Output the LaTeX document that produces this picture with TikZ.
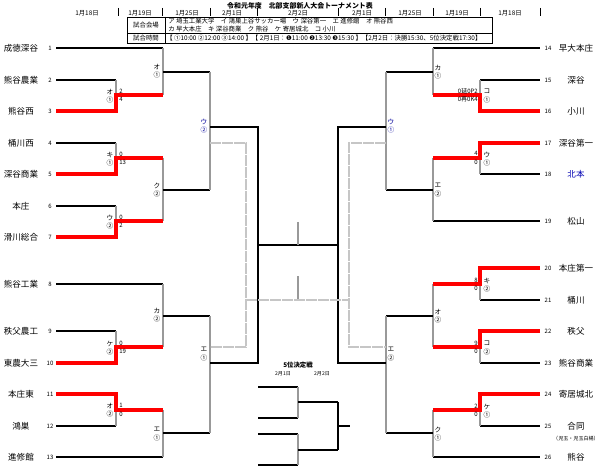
\documentclass[tikz,border=0pt]{standalone}
\usepackage{fontspec}
\setmainfont{Noto Sans CJK JP}
\newfontfamily\dvs{DejaVu Sans}
\begin{document}
\begin{tikzpicture}[x=0.75pt,y=-0.75pt,
 hl/.style={black,line width=0.8pt},
 vl/.style={gray!80,line width=1.5pt},
 rd/.style={red,line width=2.4pt},
 dl/.style={gray!45,line width=1.2pt,dash pattern=on 8pt off 1pt},
 nm/.style={font=\fontsize{6.4}{7}\selectfont,inner sep=0},
 no/.style={font=\fontsize{4.5}{5}\selectfont,inner sep=0},
 sc/.style={font=\fontsize{4.5}{6.2}\selectfont,inner sep=0,align=left},
 vn/.style={font=\fontsize{5}{6.4}\selectfont,inner sep=0,align=center},
 hd/.style={font=\fontsize{4.8}{5.5}\selectfont,inner sep=0}]
\useasboundingbox (0,0) rectangle (600,474);
% header
\node[hd,font=\fontsize{5.2}{6}\selectfont\bfseries] (title) at (300,6) {令和元年度　北部支部新人大会トーナメント表};
\foreach \x/\t [count=\i] in {87/1月18日,140/1月19日,187/1月25日,232/2月1日,298/2月2日,362/2月1日,410/1月25日,457/1月19日,510/1月18日}
 \node[hd] (d\i) at (\x,13) {\t};
\foreach \x in {118,162,210,257,338,385,433,480,540} \draw[line width=0.6pt] (\x,8) -- (\x,16);
\draw[line width=0.6pt] (127,17) rectangle (492,43);
\draw[line width=0.5pt] (127,33) -- (492,33) (165,17) -- (165,43);
\node[hd] (v0) at (146,25) {試合会場};
\node[hd] (t0) at (146,38) {試合時間};
\node[hd,anchor=west] (v1) at (168,21) {ア 埼玉工業大学　イ 鴻巣上谷サッカー場　ウ 深谷第一　エ 進修館　オ 熊谷西};
\node[hd,anchor=west] (v2) at (168,29) {カ 早大本庄　キ 深谷商業　ク 熊谷　ケ 寄居城北　コ 小川};
\node[hd,anchor=west] (t1) at (166,38) {【 ①10:00 ②12:00 ③14:00 】【 2月1日：{\dvs❶}11:00 {\dvs❷}13:30 {\dvs❸}15:30 】【2月2日：決勝15:30、5位決定戦17:30】};
% left teams
\foreach \y/\n/\t in {48/1/成徳深谷,80/2/熊谷農業,111/3/熊谷西,143/4/桶川西,174/5/深谷商業,206/6/本庄,237/7/滑川総合,284/8/熊谷工業,331/9/秩父農工,363/10/東農大三,394/11/本庄東,426/12/鴻巣,457/13/進修館}{
 \node[nm] (L\n) at (21,\y) {\t};
 \node[no] (Ln\n) at (50,\y) {\n};}
% right teams
\foreach \y/\n/\t in {48/14/早大本庄,80/15/深谷,111/16/小川,143/17/深谷第一,221/19/松山,268/20/本庄第一,300/21/桶川,331/22/秩父,363/23/熊谷商業,394/24/寄居城北,457/26/熊谷}{
 \node[nm] (R\n) at (576,\y) {\t};
 \node[no] (Rn\n) at (548,\y) {\n};}
\node[nm,text=blue!70!black] (R18) at (576,174) {北本};
\node[nm] (R25) at (576,426) {合同};
\node[no,font=\fontsize{3.8}{4}\selectfont] (R25s) at (576,439) {（児玉・児玉白楊）};
\node[no] (Rn18) at (548,174) {18};
\node[no] (Rn25) at (548,426) {25};
% ---------- left bracket ----------
\draw[hl] (56,48) -- (163,48);
\draw[hl] (56,80) -- (116,80); \draw[vl] (116,80) -- (116,111);
\draw[hl] (56,143) -- (116,143); \draw[vl] (116,143) -- (116,174);
\draw[hl] (56,206) -- (116,206); \draw[vl] (116,206) -- (116,237);
\draw[vl] (163,48) -- (163,95); \draw[vl] (163,158) -- (163,221);
\draw[hl] (163,72) -- (210,72); \draw[hl] (163,190) -- (210,190);
\draw[vl] (210,72) -- (210,190);
\draw[rd] (56,111) -- (116,111) -- (116,95) -- (163,95);
\draw[rd] (56,174) -- (116,174) -- (116,158) -- (163,158);
\draw[rd] (56,237) -- (116,237) -- (116,221) -- (163,221);
\draw[hl] (56,284) -- (163,284);
\draw[hl] (56,331) -- (116,331); \draw[vl] (116,331) -- (116,363);
\draw[hl] (56,426) -- (116,426); \draw[vl] (116,394) -- (116,426);
\draw[hl] (56,457) -- (163,457);
\draw[vl] (163,284) -- (163,347); \draw[vl] (163,410) -- (163,457);
\draw[hl] (163,316) -- (210,316); \draw[hl] (163,433) -- (210,433);
\draw[vl] (210,316) -- (210,433);
\draw[rd] (56,363) -- (116,363) -- (116,347) -- (163,347);
\draw[rd] (56,394) -- (116,394) -- (116,410) -- (163,410);
% ---------- right bracket ----------
\draw[hl] (433,48) -- (540,48);
\draw[hl] (480,80) -- (540,80); \draw[vl] (480,80) -- (480,111);
\draw[hl] (480,174) -- (540,174); \draw[vl] (480,143) -- (480,174);
\draw[hl] (433,221) -- (540,221);
\draw[vl] (433,48) -- (433,95); \draw[vl] (433,158) -- (433,221);
\draw[hl] (386,72) -- (433,72); \draw[hl] (386,190) -- (433,190);
\draw[vl] (386,72) -- (386,190);
\draw[rd] (540,111) -- (480,111) -- (480,95) -- (433,95);
\draw[rd] (540,143) -- (480,143) -- (480,158) -- (433,158);
\draw[hl] (480,300) -- (540,300); \draw[vl] (480,268) -- (480,300);
\draw[hl] (480,363) -- (540,363); \draw[vl] (480,331) -- (480,363);
\draw[hl] (480,426) -- (540,426); \draw[vl] (480,394) -- (480,426);
\draw[hl] (433,457) -- (540,457);
\draw[vl] (433,284) -- (433,347); \draw[vl] (433,410) -- (433,457);
\draw[hl] (386,316) -- (433,316); \draw[hl] (386,433) -- (433,433);
\draw[vl] (386,316) -- (386,433);
\draw[rd] (540,268) -- (480,268) -- (480,284) -- (433,284);
\draw[rd] (540,331) -- (480,331) -- (480,347) -- (433,347);
\draw[rd] (540,394) -- (480,394) -- (480,410) -- (433,410);
% ---------- centre ----------
\draw[hl] (210,127) -- (258,127) -- (258,363) -- (210,363);
\draw[hl] (386,127) -- (338,127) -- (338,363) -- (386,363);
\draw[hl] (258,245) -- (338,245);
\draw[vl,line width=1.2pt] (298,222) -- (298,245) (298,276) -- (298,300);
\draw[dl] (210,143) -- (246,143) -- (246,347) -- (210,347);
\draw[dl] (386,143) -- (349,143) -- (349,347) -- (386,347);
\draw[dl] (246,300) -- (349,300);
% 5th place
\node[hd,font=\fontsize{4.8}{5.5}\selectfont\bfseries] (fifth) at (298,365) {5位決定戦};
\node[hd,font=\fontsize{3.8}{4}\selectfont] (f1) at (283,374) {2月1日};
\node[hd,font=\fontsize{3.8}{4}\selectfont] (f2) at (322,374) {2月2日};
\draw[hl] (258,387) -- (298,387) (258,418) -- (298,418) (258,434) -- (298,434) (258,465) -- (298,465);
\draw[vl,line width=1.2pt] (298,387) -- (298,418) (298,434) -- (298,465);
\draw[hl] (298,402) -- (338,402) (298,450) -- (338,450) (338,426) -- (350,426);
\draw[line width=1pt] (338,402) -- (338,450);
% ---------- labels left ----------
\node[vn] (a1) at (110,96) {オ\\①};
\node[vn] (a2) at (110,159) {キ\\①};
\node[vn] (a3) at (110,222) {ウ\\②};
\node[vn] (a4) at (110,348) {ケ\\②};
\node[vn] (a5) at (110,410) {オ\\②};
\node[vn] (b1) at (157,71) {オ\\①};
\node[vn] (b2) at (157,190) {ク\\②};
\node[vn] (b3) at (157,315) {カ\\②};
\node[vn] (b4) at (157,434) {エ\\①};
\node[vn,text=blue!60!black] (c1) at (204,126) {ウ\\②};
\node[vn] (c2) at (204,354) {エ\\①};
\node[sc,anchor=west] (s1) at (119,95) {2\\4};
\node[sc,anchor=west] (s2) at (119,158) {0\\13};
\node[sc,anchor=west] (s3) at (119,221) {0\\2};
\node[sc,anchor=west] (s4) at (119,347) {0\\19};
\node[sc,anchor=west] (s5) at (119,410) {1\\0};
% ---------- labels right ----------
\node[vn] (ra1) at (487,96) {コ\\①};
\node[vn] (ra2) at (487,159) {ウ\\①};
\node[vn] (ra3) at (487,285) {キ\\②};
\node[vn] (ra4) at (487,348) {コ\\②};
\node[vn] (ra5) at (487,411) {ケ\\①};
\node[vn] (rb1) at (438,72) {カ\\①};
\node[vn] (rb2) at (438,190) {エ\\②};
\node[vn] (rb3) at (438,316) {オ\\②};
\node[vn] (rb4) at (438,434) {ク\\①};
\node[vn,text=blue!60!black] (rc1) at (391,126) {ウ\\①};
\node[vn] (rc2) at (391,354) {エ\\②};
\node[sc,anchor=east,align=right] (rs1) at (478,95) {0延0P2\\0再0K4};
\node[sc,anchor=east,align=right] (rs2) at (478,158) {4\\0};
\node[sc,anchor=east,align=right] (rs3) at (478,284) {8\\0};
\node[sc,anchor=east,align=right] (rs4) at (478,347) {9\\0};
\node[sc,anchor=east,align=right] (rs5) at (478,410) {2\\0};
\end{tikzpicture}
\end{document}
